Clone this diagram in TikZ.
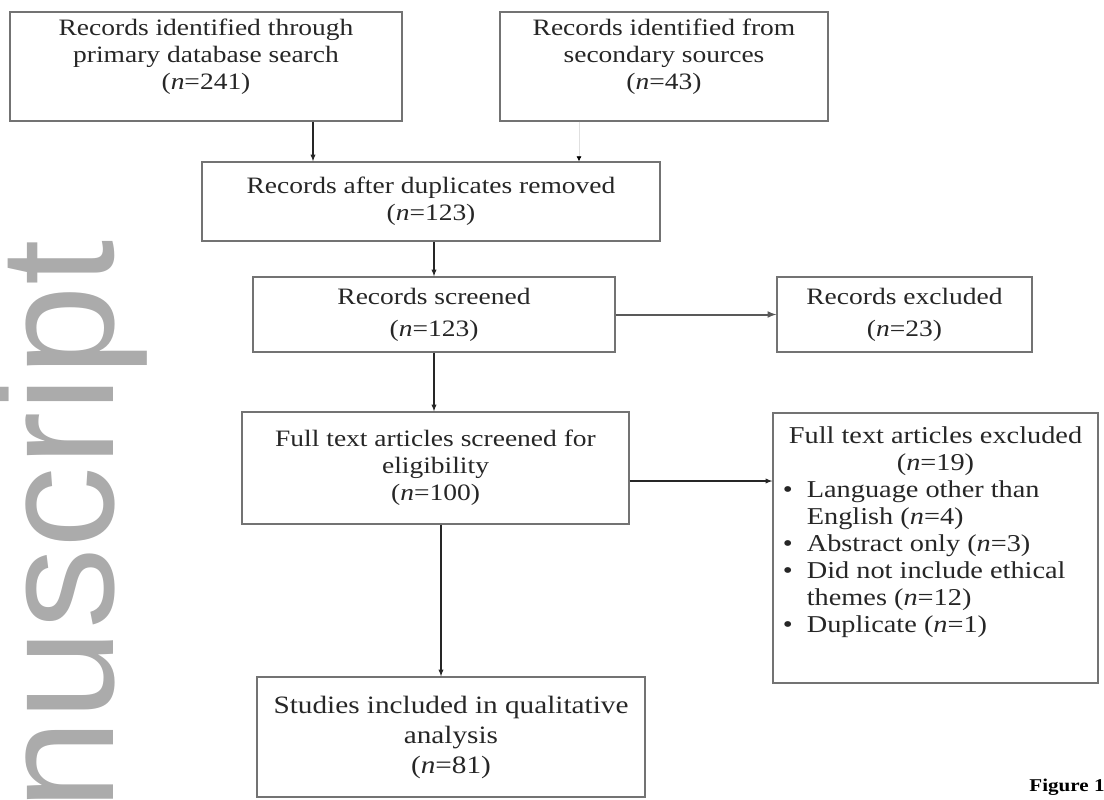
\documentclass[tikz,border=0pt]{standalone}
\usepackage{fontspec}
\setmainfont[FakeStretch=1.17]{Liberation Serif}
\setsansfont{Liberation Sans}
\usepackage{tikz}
\usetikzlibrary{arrows,arrows.meta}

\begin{document}
\begin{tikzpicture}[x=1pt,y=-1pt,
  box/.style={draw=black!55, line width=1.3pt, rectangle, align=center, inner sep=0pt,
    text=black!85, font=\fontsize{23.5}{27}\selectfont},
  arr/.style={-latex, line width=1.3pt, draw=black!85}]
\useasboundingbox (0,0) rectangle (1104,800);
\clip (0,0) rectangle (1104,800);
%watermark
\node[rotate=90, anchor=base west, inner sep=0pt, text=black!33,
  font=\sffamily\fontsize{163}{163}\selectfont] (wm) at (113,811) {nuscript};
%boxes
\node[box, minimum width=392pt, minimum height=109pt, text depth=24pt] (prim) at (206,66.5)
  {Records identified through\\primary database search\\(\textit{n}=241)};
\node[box, minimum width=328pt, minimum height=109pt, text depth=24pt] (sec) at (664,66.5)
  {Records identified from\\secondary sources\\(\textit{n}=43)};
\node[box, minimum width=458pt, minimum height=79pt] (dup) at (431,201.5)
  {Records after duplicates removed\\(\textit{n}=123)};
\node[box, minimum width=362pt, minimum height=75pt] (scr) at (434,314.5)
  {Records screened\\[5pt](\textit{n}=123)};
\node[box, minimum width=255pt, minimum height=75pt] (excl) at (904.5,314.5)
  {Records excluded\\[5pt](\textit{n}=23)};
\node[box, minimum width=387pt, minimum height=112pt] (full) at (435.5,468)
  {Full text articles screened for\\eligibility\\(\textit{n}=100)};
\node[box, minimum width=325pt, minimum height=270pt, font=\fontsize{24.2}{27}\selectfont] (exfull) at (935.5,548)
  {\begin{tabular}{@{}l@{}l@{}}
   \multicolumn{2}{c}{Full text articles excluded}\\
   \multicolumn{2}{c}{(\textit{n}=19)}\\
   \makebox[24pt][l]{\textbullet} & Language other than\\
    & English (\textit{n}=4)\\
   \textbullet & Abstract only (\textit{n}=3)\\
   \textbullet & Did not include ethical\\
    & themes (\textit{n}=12)\\
   \textbullet & Duplicate (\textit{n}=1)\\[30pt]
   \end{tabular}};
\node[box, minimum width=388pt, minimum height=120pt, font=\fontsize{25}{30}\selectfont] (stud) at (451,737)
  {Studies included in qualitative\\analysis\\(\textit{n}=81)};
\node[font=\bfseries\fontsize{18}{22}\selectfont, inner sep=0pt] (fig) at (1067,787) {Figure 1};
%arrows
\draw[arr] ([xshift=107pt]prim.south) -- ([xshift=107pt]prim.south |- dup.north);
\draw[-{Latex[length=5pt,width=5pt,color=black]}, line width=0.6pt, draw=black!12]
  ([xshift=-85pt]sec.south) -- ([xshift=-85pt]sec.south |- dup.north);
\draw[arr] (dup.south -| scr.north) -- (scr.north);
\draw[arr, draw=black!65, line width=2pt] (scr.east) -- (excl.west);
\draw[arr] (scr.south) -- (scr.south |- full.north);
\draw[arr] ([yshift=-13pt]full.east) -- ([yshift=-13pt]full.east -| exfull.west);
\draw[arr] ([xshift=5.5pt]full.south) -- ([xshift=5.5pt]full.south |- stud.north);
\end{tikzpicture}
\end{document}
